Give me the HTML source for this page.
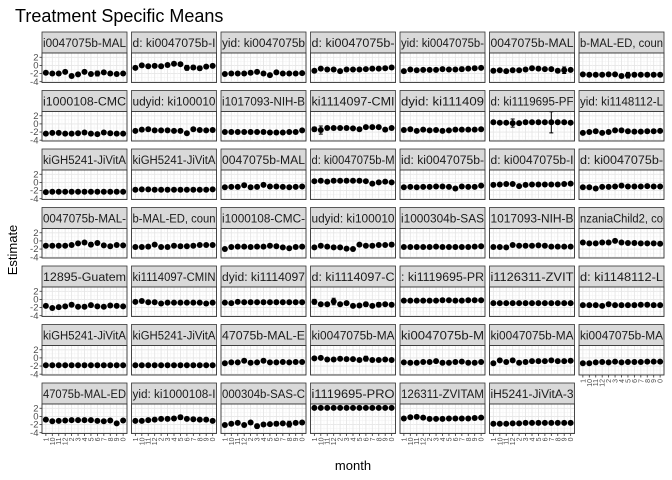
<!DOCTYPE html>
<html><head><meta charset="utf-8"><style>
body{margin:0;background:#fff;}
svg{display:block;font-family:"Liberation Sans",sans-serif;}
</style></head><body>
<svg id="chart" width="672" height="480" viewBox="0 0 672 480">
<text x="15" y="22" font-size="18" fill="#000">Treatment Specific Means</text>
<text x="17" y="250" font-size="13" fill="#000" text-anchor="middle" transform="rotate(-90 17 250)">Estimate</text>
<text x="353" y="470" font-size="13" fill="#000" text-anchor="middle">month</text>
<g id="panels"></g>
</svg>
<script>
const months = ["1","10","11","12","2","3","4","5","6","7","8","9","0"];
const yTicks = [2,0,-2,-4];
const stripLabels = [
"i0047075b-MAL","d: ki0047075b-I","yid: ki0047075b","d: ki0047075b-","yid: ki0047075b-","0047075b-MAL","b-MAL-ED, coun",
"i1000108-CMC","udyid: ki100010","i1017093-NIH-B","ki1114097-CMI","dyid: ki111409","d: ki1119695-PF","yid: ki1148112-L",
"kiGH5241-JiVitA","kiGH5241-JiVitA","0047075b-MAL","d: ki0047075b-M","id: ki0047075b-","d: ki0047075b-I","d: ki0047075b-",
"0047075b-MAL-","b-MAL-ED, coun","i1000108-CMC-","udyid: ki100010","i1000304b-SAS","1017093-NIH-B","nzaniaChild2, co",
"12895-Guatem","ki1114097-CMIN","dyid: ki1114097","d: ki1114097-C",": ki1119695-PR","i1126311-ZVIT","d: ki1148112-L",
"kiGH5241-JiVitA","kiGH5241-JiVitA","47075b-MAL-E","ki0047075b-MA","ki0047075b-M","ki0047075b-MA","ki0047075b-MA",
"47075b-MAL-ED","yid: ki1000108-I","000304b-SAS-C","i1119695-PRO","126311-ZVITAM","iH5241-JiVitA-3"];
const estimates = [
[-1.8,-2.0,-2.0,-1.6,-2.6,-2.2,-1.6,-2.1,-2.0,-1.7,-2.0,-2.1,-2.0],
[-0.6,0.0,-0.2,-0.1,-0.2,0.1,0.4,0.3,-0.6,-0.5,-0.7,-0.3,-0.1],
[-2.1,-2.0,-2.0,-2.0,-1.8,-1.6,-2.0,-2.4,-1.7,-2.0,-2.0,-2.0,-1.9],
[-1.3,-0.8,-1.0,-1.0,-1.4,-1.0,-1.0,-1.0,-0.9,-0.8,-0.8,-0.7,-0.5],
[-1.4,-1.0,-1.2,-1.1,-1.1,-1.1,-0.9,-1.0,-1.0,-0.9,-0.8,-0.7,-0.6],
[-1.3,-1.2,-1.4,-1.2,-1.2,-1.0,-0.7,-0.8,-0.9,-0.9,-1.3,-1.2,-1.1],
[-2.2,-2.3,-2.3,-2.3,-2.2,-2.2,-2.6,-2.4,-2.3,-2.3,-2.3,-2.3,-2.3],
[-2.4,-2.2,-2.2,-2.4,-2.4,-2.3,-2.1,-2.4,-2.5,-2.1,-2.3,-2.4,-2.4],
[-1.7,-1.4,-1.3,-1.6,-1.6,-1.6,-1.7,-1.7,-2.3,-1.3,-1.5,-1.6,-1.5],
[-2.0,-2.0,-2.0,-2.0,-2.0,-2.0,-2.0,-2.1,-2.1,-2.1,-2.0,-2.0,-1.6],
[-1.3,-1.5,-1.0,-1.0,-1.0,-1.0,-1.1,-1.3,-0.8,-0.8,-0.8,-1.4,-1.0],
[-1.5,-1.3,-1.7,-1.4,-1.6,-1.5,-1.7,-1.6,-1.4,-1.4,-1.4,-1.4,-1.3],
[0.4,0.3,0.3,0.2,0.2,0.4,0.4,0.4,0.4,0.4,0.4,0.4,0.3],
[-2.2,-2.0,-1.8,-2.2,-2.0,-1.6,-1.6,-1.8,-1.9,-1.9,-1.8,-1.8,-1.7],
[-2.4,-2.3,-2.3,-2.3,-2.3,-2.3,-2.3,-2.3,-2.3,-2.3,-2.3,-2.3,-2.3],
[-1.8,-1.7,-1.7,-1.8,-1.8,-1.8,-1.8,-1.8,-1.8,-1.8,-1.8,-1.8,-1.7],
[-1.2,-1.1,-1.1,-0.7,-1.2,-1.1,-0.6,-1.0,-1.0,-1.1,-1.2,-1.1,-1.0],
[0.3,0.4,0.2,0.4,0.4,0.4,0.4,0.4,0.3,-0.3,0.0,0.2,0.0],
[-1.2,-1.1,-1.2,-1.1,-1.1,-1.0,-1.0,-1.1,-1.5,-1.0,-1.1,-1.1,-0.8],
[-0.6,-0.5,-0.4,-0.4,-0.9,-0.6,-0.5,-0.5,-0.5,-0.5,-0.5,-0.4,-0.3],
[-1.2,-1.2,-1.5,-1.1,-1.1,-1.0,-0.8,-1.0,-1.0,-1.0,-0.9,-1.0,-1.0],
[-1.2,-1.2,-1.2,-1.2,-1.0,-0.6,-0.4,-0.9,-0.5,-1.1,-1.3,-1.0,-1.1],
[-1.5,-1.5,-1.4,-0.9,-1.5,-1.5,-1.2,-1.3,-1.3,-1.2,-1.0,-1.0,-1.0],
[-2.0,-1.5,-1.4,-1.4,-1.5,-1.4,-1.4,-1.2,-1.3,-1.6,-1.8,-1.5,-1.4],
[-1.6,-1.2,-1.4,-1.6,-1.6,-1.9,-2.0,-0.9,-1.2,-1.2,-1.0,-1.0,-0.9],
[-1.5,-1.5,-1.5,-1.5,-1.5,-1.4,-1.5,-1.5,-1.5,-1.5,-1.5,-1.4,-1.3],
[-1.5,-1.5,-1.6,-1.0,-1.2,-1.2,-1.2,-1.1,-1.2,-1.4,-1.4,-1.4,-1.4],
[-0.4,-0.6,-0.6,-0.4,-0.4,0.0,-0.4,-0.5,-0.5,-0.6,-0.6,-0.6,-0.7],
[-1.6,-2.1,-1.9,-1.7,-1.3,-1.8,-1.8,-1.4,-1.7,-1.8,-1.5,-1.6,-1.7],
[-0.6,-0.4,-0.7,-0.7,-1.0,-0.8,-0.8,-0.8,-0.8,-0.8,-0.8,-1.0,-0.8],
[-0.8,-0.9,-0.6,-0.7,-0.7,-0.7,-0.7,-0.7,-0.7,-0.7,-0.7,-0.7,-0.7],
[-0.6,-1.2,-1.2,-0.5,-1.2,-0.9,-1.6,-1.5,-1.2,-1.6,-1.3,-1.2,-1.3],
[-0.3,-0.3,-0.3,-0.3,-0.3,-0.3,-0.2,-0.2,-0.3,-0.3,-0.2,-0.2,-0.2],
[-0.9,-0.9,-0.9,-0.9,-0.9,-0.9,-0.9,-0.9,-0.9,-0.9,-0.9,-0.9,-0.9],
[-1.4,-1.4,-1.4,-1.6,-1.2,-1.4,-1.4,-1.4,-1.4,-1.3,-1.3,-1.4,-1.4],
[-1.8,-1.8,-1.8,-1.8,-1.8,-1.8,-1.8,-1.8,-1.8,-1.8,-1.8,-1.8,-1.8],
[-1.8,-1.8,-1.8,-1.8,-1.8,-1.8,-1.8,-1.8,-1.8,-1.8,-1.8,-1.8,-1.8],
[-1.3,-1.1,-1.1,-0.7,-1.2,-1.1,-0.7,-1.1,-1.1,-1.0,-1.1,-1.0,-1.0],
[-0.1,0.0,-0.4,-0.4,-0.2,-0.3,-0.3,-0.5,-0.2,-0.5,-0.5,-0.4,-0.5],
[-1.1,-1.2,-1.2,-1.0,-1.0,-0.8,-1.2,-1.2,-1.0,-0.9,-1.2,-1.2,-1.0],
[-1.3,-0.6,-1.0,-0.6,-1.2,-1.0,-0.8,-0.8,-0.8,-0.6,-0.8,-0.8,-0.7],
[-1.3,-1.3,-1.1,-1.0,-1.1,-0.9,-1.1,-1.0,-1.0,-1.0,-0.9,-0.9,-0.9],
[-0.8,-1.2,-1.1,-1.0,-0.9,-0.9,-0.9,-0.9,-1.1,-1.2,-1.0,-1.7,-1.0],
[-1.1,-1.1,-0.9,-0.8,-0.6,-0.6,-0.5,-0.2,-0.6,-0.7,-0.8,-0.8,-1.1],
[-2.1,-1.8,-1.6,-2.1,-1.5,-2.4,-2.0,-1.9,-1.8,-1.7,-1.9,-1.6,-1.5],
[2.1,2.1,2.1,2.1,2.1,2.1,2.1,2.1,2.1,2.1,2.1,2.1,2.1],
[-0.5,-0.2,-0.1,-0.3,-0.6,-0.6,-0.6,-0.5,-0.5,-0.5,-0.5,-0.4,-0.3],
[-1.8,-1.8,-1.8,-1.7,-1.7,-1.6,-1.6,-1.6,-1.6,-1.6,-1.6,-1.6,-1.6]];
const errors = [
[0.2,0.2,0.2,0.2,0.2,0.2,0.2,0.2,0.6,0.2,0.2,0.2,0.2],
[0.4,0.2,0.2,0.3,0.3,0.2,0.2,0.2,0.6,0.5,0.5,0.2,0.2],
[0.2,0.2,0.2,0.2,0.2,0.2,0.2,0.4,0.2,0.2,0.2,0.2,0.2],
[0.2,0.2,0.2,0.2,0.2,0.2,0.2,0.2,0.2,0.2,0.2,0.2,0.2],
[0.2,0.2,0.2,0.2,0.2,0.2,0.2,0.2,0.3,0.5,0.2,0.2,0.2],
[0.2,0.2,0.2,0.2,0.2,0.3,0.3,0.3,0.3,0.2,0.2,0.8,0.2],
[0.3,0.2,0.2,0.2,0.2,0.2,0.3,0.7,0.2,0.2,0.2,0.2,0.2],
[0.2,0.2,0.2,0.3,0.3,0.2,0.2,0.3,0.3,0.2,0.2,0.2,0.2],
[0.2,0.2,0.2,0.2,0.2,0.2,0.2,0.2,0.3,0.2,0.2,0.2,0.2],
[0.2,0.2,0.2,0.2,0.2,0.2,0.2,0.2,0.2,0.2,0.2,0.2,0.4],
[0.5,1.0,0.2,0.2,0.2,0.2,0.2,0.2,0.3,0.2,0.2,0.4,0.2],
[0.2,0.2,0.3,0.2,0.2,0.3,0.2,0.2,0.3,0.2,0.2,0.2,0.2],
[0.4,0.2,0.2,1.0,0.2,0.2,0.2,0.2,0.2,2.6,0.2,0.2,0.2],
[0.2,0.2,0.3,0.2,0.3,0.2,0.2,0.2,0.2,0.2,0.2,0.2,0.2],
[0.2,0.2,0.2,0.2,0.2,0.2,0.2,0.2,0.2,0.2,0.2,0.2,0.2],
[0.2,0.2,0.2,0.2,0.2,0.2,0.2,0.2,0.2,0.2,0.2,0.2,0.2],
[0.3,0.3,0.2,0.2,0.2,0.2,0.2,0.3,0.3,0.3,0.2,0.3,0.2],
[0.3,0.2,0.3,0.3,0.3,0.3,0.3,0.3,0.2,0.4,0.4,0.3,0.2],
[0.2,0.2,0.2,0.2,0.2,0.2,0.3,0.2,0.3,0.2,0.2,0.2,0.3],
[0.2,0.2,0.2,0.2,0.2,0.2,0.2,0.2,0.2,0.2,0.2,0.2,0.2],
[0.2,0.2,0.2,0.2,0.2,0.3,0.3,0.2,0.2,0.2,0.2,0.2,0.2],
[0.2,0.2,0.2,0.2,0.2,0.3,0.3,0.5,0.2,0.2,0.3,0.2,0.4],
[0.2,0.2,0.2,0.2,0.2,0.2,0.3,0.3,0.3,0.2,0.2,0.2,0.2],
[0.3,0.2,0.2,0.3,0.3,0.2,0.3,0.3,0.3,0.3,0.2,0.2,0.3],
[0.2,0.2,0.2,0.2,0.2,0.2,0.3,0.2,0.2,0.2,0.2,0.2,0.5],
[0.2,0.2,0.2,0.2,0.2,0.2,0.2,0.2,0.2,0.2,0.2,0.2,0.2],
[0.2,0.2,0.2,0.2,0.2,0.2,0.2,0.2,0.2,0.2,0.2,0.2,0.2],
[0.2,0.2,0.2,0.2,0.2,0.2,0.2,0.2,0.2,0.2,0.2,0.2,0.2],
[0.2,0.2,0.3,0.2,0.2,0.2,0.2,0.2,0.2,0.2,0.3,0.3,0.2],
[0.3,0.4,0.2,0.2,0.2,0.2,0.2,0.2,0.2,0.2,0.2,0.2,0.2],
[0.2,0.2,0.2,0.2,0.2,0.2,0.2,0.2,0.2,0.2,0.2,0.2,0.2],
[0.6,0.3,0.3,0.8,0.4,0.3,0.3,0.3,0.5,0.3,0.5,0.3,0.3],
[0.2,0.2,0.2,0.2,0.2,0.2,0.2,0.2,0.2,0.2,0.2,0.2,0.2],
[0.2,0.2,0.2,0.2,0.2,0.2,0.2,0.2,0.2,0.2,0.2,0.2,0.2],
[0.2,0.2,0.2,0.2,0.2,0.2,0.2,0.2,0.2,0.2,0.2,0.2,0.2],
[0.2,0.2,0.2,0.2,0.2,0.2,0.2,0.2,0.2,0.2,0.2,0.2,0.2],
[0.2,0.2,0.2,0.2,0.2,0.2,0.2,0.2,0.2,0.2,0.2,0.2,0.2],
[0.2,0.2,0.2,0.3,0.2,0.2,0.2,0.3,0.3,0.2,0.3,0.2,0.2],
[0.3,0.3,0.2,0.2,0.3,0.3,0.2,0.2,0.6,0.3,0.3,0.2,0.2],
[0.2,0.2,0.2,0.2,0.2,0.2,0.3,0.3,0.2,0.2,0.3,0.2,0.2],
[0.3,0.2,0.2,0.3,0.3,0.3,0.3,0.3,0.2,0.4,0.3,0.2,0.2],
[0.2,0.2,0.2,0.2,0.2,0.2,0.2,0.2,0.2,0.3,0.2,0.2,0.2],
[0.2,0.2,0.2,0.2,0.2,0.3,0.3,0.3,0.2,0.2,0.2,0.2,0.2],
[0.3,0.2,0.3,0.4,0.4,0.3,0.4,0.5,0.4,0.3,0.2,0.2,0.4],
[0.4,0.3,0.2,0.3,0.3,0.5,0.4,0.4,0.5,0.4,0.7,0.2,0.2],
[0.2,0.2,0.2,0.2,0.2,0.2,0.2,0.2,0.2,0.2,0.2,0.2,0.2],
[0.2,0.2,0.2,0.2,0.2,0.2,0.2,0.2,0.2,0.2,0.2,0.2,0.2],
[0.2,0.2,0.2,0.2,0.2,0.2,0.2,0.2,0.2,0.2,0.2,0.2,0.2]];

const NS = "http://www.w3.org/2000/svg";
const root = document.getElementById("panels");
const COLS = 7, X0 = 42, CW = 89.5, PW = 85, Y0 = 32, RH = 58.5, SH = 21, PH = 29.5;
const YMIN = -4.2, YMAX = 3.05;
function mk(tag, attrs, parent){const e=document.createElementNS(NS,tag);for(const k in attrs)e.setAttribute(k,attrs[k]);parent.appendChild(e);return e;}
function xScale(i, px){ return px + (i + 0.6) * PW / (months.length - 1 + 1.2); }
function yScale(v, py){ return py + (YMAX - v) / (YMAX - YMIN) * PH; }
const n = estimates.length;
for (let p = 0; p < n; p++) {
  const r = Math.floor(p / COLS), c = p % COLS;
  const px = X0 + c * CW, sy = Y0 + r * RH, py = sy + SH;
  const g = mk("g", {}, root);
  
  
  const cp = mk("clipPath", {id: "clip" + p}, g);
  mk("rect", {x: px, y: sy, width: PW, height: SH}, cp);
  const strip = mk("rect", {x: px, y: sy, width: PW, height: SH, fill: "#d9d9d9", stroke: "#333", "stroke-width": 0.8}, g);
  
  
  const st = mk("text", {x: px + 1, y: sy + 15, "font-size": 11.5, fill: "#1a1a1a", textLength: PW - 2, lengthAdjust: "spacingAndGlyphs", "clip-path": "url(#clip" + p + ")"}, g);
  st.textContent = stripLabels[p];
  
  
  mk("rect", {x: px, y: py, width: PW, height: PH, fill: "#fff"}, g);
  for (let t = -4; t <= 3; t++) { const yy = yScale(t, py); if (yy > py && yy < py + PH) mk("line", {x1: px, x2: px + PW, y1: yy, y2: yy, stroke: t % 2 === 0 ? "#e6e6e6" : "#f2f2f2", "stroke-width": t % 2 === 0 ? 0.9 : 0.5}, g); }
  for (let i = 0; i < months.length; i++) { const xx = xScale(i, px); mk("line", {x1: xx, x2: xx, y1: py, y2: py + PH, stroke: "#e6e6e6", "stroke-width": 0.9}, g); if (i < months.length - 1) { const xm = xScale(i + 0.5, px); mk("line", {x1: xm, x2: xm, y1: py, y2: py + PH, stroke: "#f2f2f2", "stroke-width": 0.5}, g); } }
  for (let i = 0; i < months.length; i++) {
    const v = estimates[p][i], e = errors[p][i], xx = xScale(i, px);
    const y1 = yScale(v + e, py), y2 = yScale(v - e, py);
    const eb = mk("path", {d: `M${xx-2} ${y1}H${xx+2}M${xx} ${y1}V${y2}M${xx-2} ${y2}H${xx+2}`, stroke: "#000", "stroke-width": 1, fill: "none"}, g);
    
    
    const pt = mk("circle", {cx: xx, cy: yScale(v, py), r: 3, fill: "#000"}, g);
    
    
  }
  mk("rect", {x: px, y: py, width: PW, height: PH, fill: "none", stroke: "#333", "stroke-width": 0.9}, g);
  if (c === 0) {
    yTicks.forEach(t => {
      const yy = yScale(t, py);
      mk("line", {x1: px - 2.5, x2: px, y1: yy, y2: yy, stroke: "#333", "stroke-width": 0.8}, g);
      const tl = mk("text", {x: px - 3.5, y: yy + 3.2, "font-size": 9.5, fill: "#4d4d4d", "text-anchor": "end"}, g);
      tl.textContent = t;
      
      
    });
  }
  if (p + COLS >= n) {
    for (let i = 0; i < months.length; i++) {
      const xx = xScale(i, px);
      mk("line", {x1: xx, x2: xx, y1: py + PH, y2: py + PH + 2.5, stroke: "#333", "stroke-width": 0.8}, g);
      const yy = py + PH + 4;
      const xl = mk("text", {x: xx + 2.5, y: yy, "font-size": 7, fill: "#4d4d4d", "text-anchor": "end", transform: `rotate(-90 ${xx + 2.5} ${yy})`}, g);
      xl.textContent = months[i];
      
      
    }
  }
}
</script>
</body></html>
